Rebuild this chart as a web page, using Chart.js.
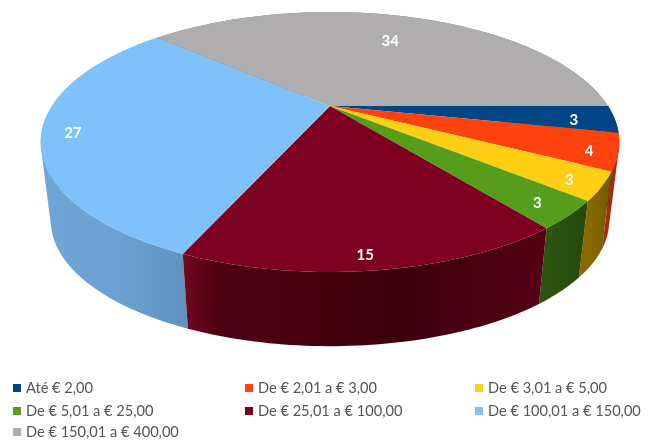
<!DOCTYPE html>
<html>
<head>
<meta charset="utf-8">
<title>Pie</title>
<script src="https://cdn.jsdelivr.net/npm/chart.js@4/dist/chart.umd.min.js"></script>
<style>
  html, body { margin: 0; padding: 0; background: #fff; }
  canvas { display: block; filter: blur(0.6px); }
</style>
</head>
<body>
<canvas id="pie" width="651" height="445"></canvas>
<script>
// Data
const categories = [
  "Até € 2,00",
  "De € 2,01 a € 3,00",
  "De € 3,01 a € 5,00",
  "De € 5,01 a € 25,00",
  "De € 25,01 a € 100,00",
  "De € 100,01 a € 150,00",
  "De € 150,01 a € 400,00",
];
const values = [3, 4, 3, 3, 15, 27, 34];

// Colours of the top faces and of the outer wall (left to right along each wall)
const topColors = ["#004586", "#ff420e", "#ffcf14", "#579d1c", "#7e0021", "#7fc2fb", "#afadad"];
const wallColors = [
  ["#00305c", "#00305c", "#00305c", "#00305c"],
  ["#a62c09", "#a62c09", "#a62c09", "#a62c09"],
  ["#8a6a00", "#8a6a00", "#7c6000", "#6e5500"],
  ["#2c5410", "#2c5410", "#284c0c", "#264a0c"],
  ["#720a1c", "#4e0014", "#3c000e", "#560016"],
  ["#72a9da", "#6fa5d6", "#6a9fcf", "#5f92bf"],
  ["#7a7979", "#7a7979", "#7a7979", "#7a7979"],
];
const wallStops = [0, 0.1, 0.6, 1];

// Label placement: how far out along the radius, and a small sideways shift
const labelRadius = [0.87, 0.92, 0.9, 0.89, 0.92, 0.9, 0.72];
const labelShift = [-3, -4, -1, 0, -7, 1, -1];

// Perspective of the tilted disc: the centre is not the middle of the ellipse
const view = { cx: 330, cy: 106, a: 278, b: 120, k: 0.277, wallY: 186, wallScale: 0.965 };

function topPoint(angle, r) {
  const w = 1 - view.k * r * Math.sin(angle);
  return {
    x: view.cx + (view.a * r * Math.cos(angle)) / w,
    y: view.cy + (view.b * r * Math.sin(angle)) / w,
  };
}

function bottomPoint(angle) {
  const w = 1 - view.k * Math.sin(angle);
  return {
    x: view.cx + (view.wallScale * view.a * Math.cos(angle)) / w,
    y: view.wallY + (view.wallScale * view.b * Math.sin(angle)) / w,
  };
}

function arcAngles(start, end) {
  const out = [];
  const steps = Math.max(2, Math.ceil((end - start) / 0.02));
  for (let i = 0; i <= steps; i++) out.push(start + ((end - start) * i) / steps);
  return out;
}

// Adds one quad to the path, always wound the same way so overlaps stay filled
function addQuad(ctx, pts) {
  let area = 0;
  pts.forEach((p, i) => {
    const q = pts[(i + 1) % 4];
    area += p.x * q.y - q.x * p.y;
  });
  const list = area < 0 ? pts.slice().reverse() : pts;
  ctx.moveTo(list[0].x, list[0].y);
  for (let i = 1; i < 4; i++) ctx.lineTo(list[i].x, list[i].y);
  ctx.closePath();
}

// Draws the library's arc elements as a 3D disc instead of flat slices
const disc3d = {
  id: "disc3d",
  beforeDatasetsDraw(chart) {
    const ctx = chart.ctx;
    const arcs = chart.getDatasetMeta(0).data;

    // walls first, back to front
    const order = arcs.map((arc, i) => i).sort((p, q) => {
      const mid = (i) => Math.sin((arcs[i].startAngle + arcs[i].endAngle) / 2);
      return mid(p) - mid(q);
    });
    order.forEach((i) => {
      const angles = arcAngles(arcs[i].startAngle, arcs[i].endAngle);
      const xs = angles.map((t) => topPoint(t, 1).x);
      const grad = ctx.createLinearGradient(Math.min(...xs), 0, Math.max(...xs) + 1, 0);
      wallStops.forEach((stop, n) => grad.addColorStop(stop, wallColors[i][n]));
      ctx.beginPath();
      for (let n = 0; n < angles.length - 1; n++) {
        addQuad(ctx, [
          topPoint(angles[n], 1),
          topPoint(angles[n + 1], 1),
          bottomPoint(angles[n + 1]),
          bottomPoint(angles[n]),
        ]);
      }
      ctx.fillStyle = grad;
      ctx.fill();
    });

    // top faces
    arcs.forEach((arc, i) => {
      ctx.beginPath();
      ctx.moveTo(view.cx, view.cy);
      arcAngles(arc.startAngle, arc.endAngle).forEach((t) => {
        const p = topPoint(t, 1);
        ctx.lineTo(p.x, p.y);
      });
      ctx.closePath();
      ctx.fillStyle = topColors[i];
      ctx.fill();
    });
    return false; // skip the flat pie
  },
  afterDraw(chart) {
    const ctx = chart.ctx;
    const arcs = chart.getDatasetMeta(0).data;

    // value labels
    ctx.save();
    ctx.font = "bold 15px Lato";
    ctx.fillStyle = "#fff";
    ctx.textAlign = "center";
    ctx.textBaseline = "middle";
    arcs.forEach((arc, i) => {
      const p = topPoint((arc.startAngle + arc.endAngle) / 2, labelRadius[i]);
      ctx.fillText(String(values[i]), p.x + labelShift[i], p.y + 3);
    });

    // legend, three columns
    const columns = [13, 245, 475];
    const rows = [388, 411, 432];
    ctx.font = "14.6px Lato";
    ctx.textAlign = "left";
    categories.forEach((label, i) => {
      const x = columns[i % 3];
      const y = rows[Math.floor(i / 3)];
      ctx.fillStyle = topColors[i];
      ctx.fillRect(x, y - 4, 8, 8);
      ctx.fillStyle = "#555";
      ctx.fillText(label, x + 13, y);
    });
    ctx.restore();
  },
};

new Chart(document.getElementById("pie"), {
  type: "pie",
  data: {
    labels: categories,
    datasets: [{ data: values, backgroundColor: topColors, borderWidth: 0 }],
  },
  options: {
    responsive: false,
    animation: false,
    rotation: 90,
    plugins: {
      legend: { display: false },
      tooltip: { enabled: false },
    },
  },
  plugins: [disc3d],
});
</script>
</body>
</html>
